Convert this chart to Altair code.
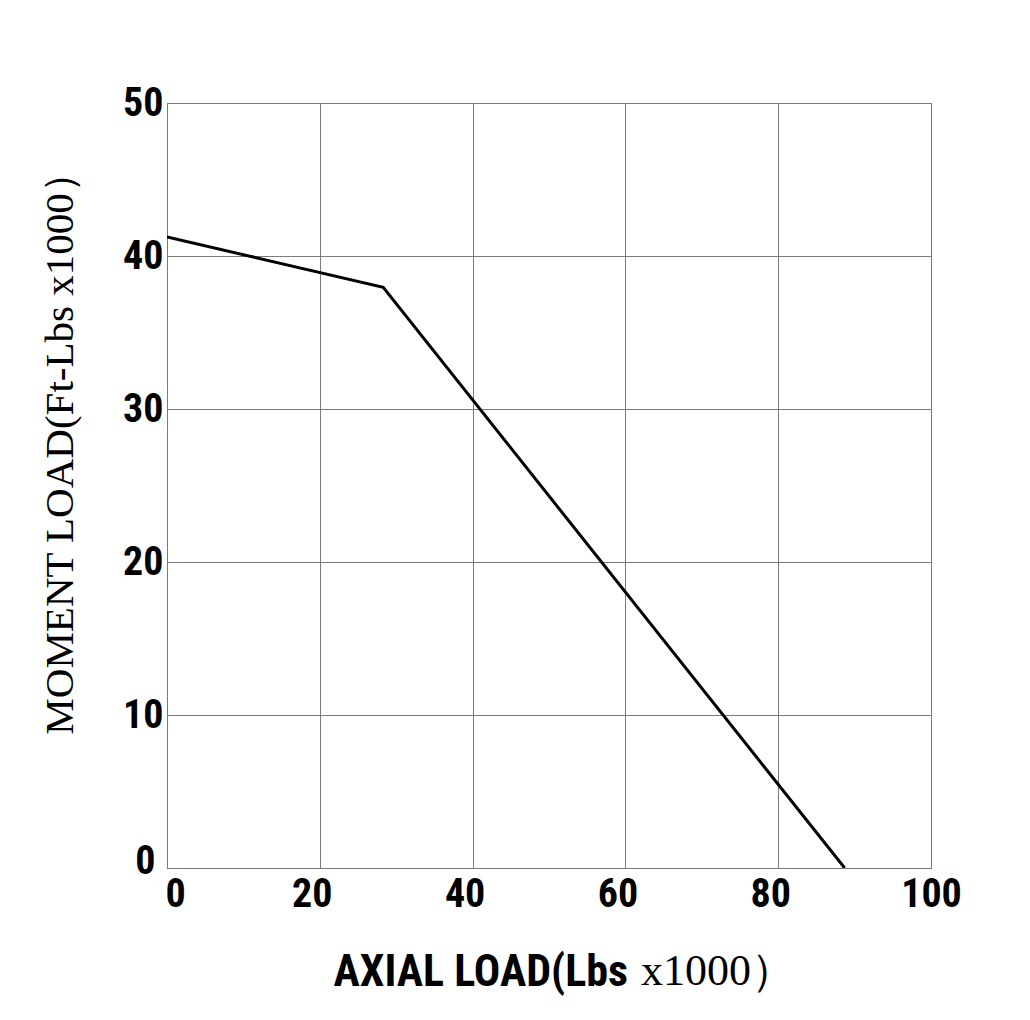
import altair as alt
import pandas as pd

axial_load = [0, 28.3, 88.7]
moment_load = [41.25, 37.95, 0]
x_ticks = [0, 20, 40, 60, 80, 100]
y_ticks = [0, 10, 20, 30, 40, 50]

df = pd.DataFrame({"axial": axial_load, "moment": moment_load})

SANS = "Liberation Sans Narrow, Arial Narrow, Roboto Condensed, Liberation Sans, sans-serif"
SERIF = "Liberation Serif, Times New Roman, DejaVu Serif, serif"
GRID = "#7a7a7a"

line = alt.Chart(df).mark_line(color="black", strokeWidth=3, clip=True).encode(
    x=alt.X(
        "axial:Q",
        scale=alt.Scale(domain=[0, 100], nice=False),
        axis=alt.Axis(
            values=x_ticks,
            title="AXIAL LOAD(Lbs",
            titleFont=SANS,
            titleFontSize=44,
            titleFontWeight="bold",
            titleColor="black",
            titleAnchor="start",
            titleAlign="left",
            titleX=166,
            titleY=117,
            titleBaseline="alphabetic",
            labelFont=SANS,
            labelFontSize=40,
            labelFontWeight="bold",
            labelColor="black",
            labelPadding=6,
            labelFlush=False,
            labelAlign=alt.expr("datum.value == 0 ? 'left' : 'center'"),
            labelOffset=alt.expr("datum.value == 0 ? -2 : (datum.value == 100 ? 0 : -8)"),
            ticks=False,
            domainColor=GRID,
            gridColor=GRID,
            gridOpacity=1,
            gridWidth=1,
        ),
    ),
    y=alt.Y(
        "moment:Q",
        scale=alt.Scale(domain=[0, 50], nice=False),
        axis=alt.Axis(
            values=y_ticks,
            title="MOMENT LOAD(Ft-Lbs x1000\uff09",
            titleFont=SERIF,
            titleFontSize=41,
            titleFontWeight="normal",
            titleColor="black",
            titleX=-107,
            titleY=340,
            titleAlign="center",
            titleBaseline="middle",
            titleAngle=270,
            labelFont=SANS,
            labelFontSize=40,
            labelFontWeight="bold",
            labelColor="black",
            labelPadding=alt.expr("datum.value == 0 ? 12 : 4"),
            labelOffset=alt.expr("datum.value == 0 ? -7 : 0"),
            labelFlush=False,
            ticks=False,
            domainColor=GRID,
            gridColor=GRID,
            gridOpacity=1,
            gridWidth=1,
        ),
    ),
)

suffix = alt.Chart(pd.DataFrame({"t": ["x1000\uff09"]})).mark_text(
    font=SERIF, fontSize=44, color="black", align="left", baseline="alphabetic"
).encode(
    text="t:N",
    x=alt.value(474),
    y=alt.value(882),
)

chart = (
    alt.layer(line, suffix)
    .properties(
        width=764,
        height=765,
        autosize=alt.AutoSizeParams(type="none"),
        padding={"left": 159, "top": 95, "right": 90, "bottom": 140},
        background="white",
    )
    .configure_view(stroke=GRID, strokeWidth=1)
)

chart.save("out.html", embed_options={"renderer": "svg", "actions": False})
